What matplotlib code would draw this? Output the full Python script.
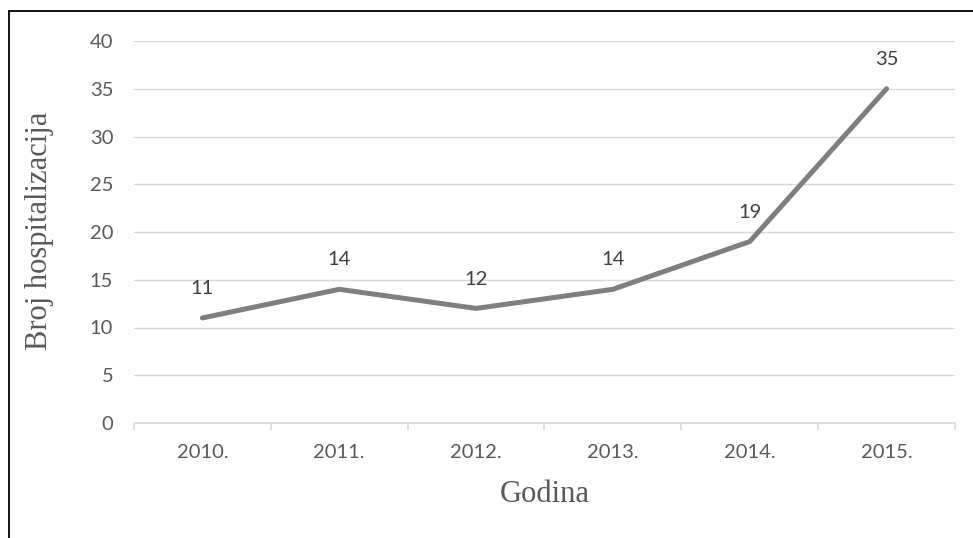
import matplotlib
matplotlib.use("Agg")
import matplotlib.pyplot as plt
from matplotlib.patches import Rectangle

godine = ["2010.", "2011.", "2012.", "2013.", "2014.", "2015."]
hospitalizacije = [11, 14, 12, 14, 19, 35]
y_ticks = [0, 5, 10, 15, 20, 25, 30, 35, 40]

siva_tekst = "#595959"
siva_linija = "#7f7f7f"
siva_mreza = "#d9d9d9"

fig = plt.figure(figsize=(9.73, 5.38), dpi=100)
ax = fig.add_axes([134 / 973, 1 - 423 / 538, (955 - 134) / 973, (423 - 41) / 538])

x = list(range(len(godine)))
ax.plot(x, hospitalizacije, color=siva_linija, linewidth=3.6, solid_capstyle="round", zorder=3)

for xi, v in zip(x, hospitalizacije):
    ax.annotate(str(v), (xi, v), xytext=(0, 15), textcoords="offset points",
                ha="center", va="bottom", fontsize=14.5, color="#404040", family="Lato")

ax.set_xlim(-0.5, len(godine) - 0.5)
ax.set_ylim(0, 40)
ax.set_yticks(y_ticks)
ax.set_xticks(x)
ax.set_xticklabels(godine)
ax.set_xticks([i - 0.5 for i in range(len(godine) + 1)], minor=True)

ax.grid(axis="y", color=siva_mreza, linewidth=1)
ax.set_axisbelow(True)
for s in ["top", "right", "left"]:
    ax.spines[s].set_visible(False)
ax.spines["bottom"].set_color(siva_mreza)
ax.spines["bottom"].set_linewidth(1.2)

ax.tick_params(axis="y", length=0, pad=15, labelsize=14.5, labelcolor=siva_tekst)
ax.tick_params(axis="x", which="major", length=0, pad=15, labelsize=14.5, labelcolor=siva_tekst)
ax.tick_params(axis="x", which="minor", length=5, width=1.2, color=siva_mreza)
for lab in ax.get_xticklabels() + ax.get_yticklabels():
    lab.set_family("Lato")

fig.text(40 / 973, 1 - 231 / 538, "Broj hospitalizacija", rotation=90, ha="center", va="center",
         fontsize=22, family="Liberation Serif", color=siva_tekst)
fig.text(545 / 973, 1 - 494 / 538, "Godina", ha="center", va="center",
         fontsize=22, family="Liberation Serif", color=siva_tekst)

# okvir
fig.patches.append(Rectangle((9 / 973, -0.1), 1.2, 1.1 - 11 / 538, transform=fig.transFigure,
                             fill=False, edgecolor="black", linewidth=1.3))

fig.savefig("out.png", dpi=100)
